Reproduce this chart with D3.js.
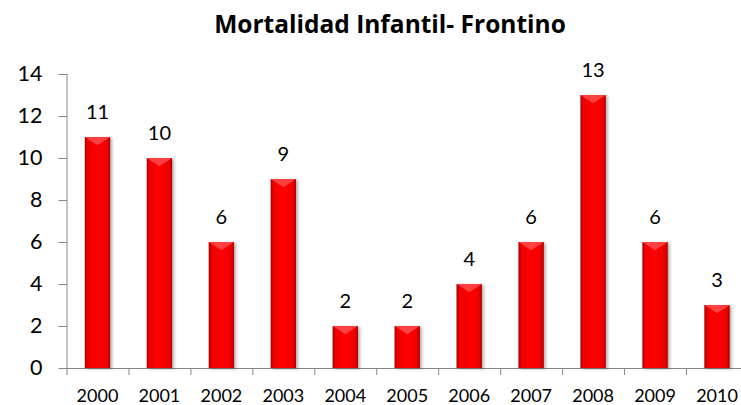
<!DOCTYPE html>
<html>
<head>
<meta charset="utf-8">
<script src="https://cdn.jsdelivr.net/npm/d3@7/dist/d3.min.js"></script>
<style>
  body { margin: 0; background: #fff; }
  svg { display: block; }
</style>
</head>
<body>
<div id="chart"></div>
<script>
// chart data
var years = ["2000", "2001", "2002", "2003", "2004", "2005", "2006", "2007", "2008", "2009", "2010"];
var deaths = [11, 10, 6, 9, 2, 2, 4, 6, 13, 6, 3];
var yTicks = [0, 2, 4, 6, 8, 10, 12, 14];
var title = "Mortalidad Infantil- Frontino";

var W = 741, H = 405;
var margin = {top: 74, right: -7, bottom: 37, left: 66.5};
var width = W - margin.left - margin.right;
var height = H - margin.top - margin.bottom;

var svg = d3.select("#chart").append("svg")
    .attr("width", W)
    .attr("height", H);

var defs = svg.append("defs");
var grad = defs.append("linearGradient")
    .attr("id", "barGrad")
    .attr("x1", "0%").attr("x2", "100%").attr("y1", "0%").attr("y2", "0%");
grad.append("stop").attr("offset", "0%").attr("stop-color", "#a80000");
grad.append("stop").attr("offset", "12%").attr("stop-color", "#ee0000");
grad.append("stop").attr("offset", "50%").attr("stop-color", "#ff0000");
grad.append("stop").attr("offset", "88%").attr("stop-color", "#ee0000");
grad.append("stop").attr("offset", "100%").attr("stop-color", "#a80000");

var shadow = defs.append("filter").attr("id", "shadow")
    .attr("x", "-30%").attr("y", "-10%").attr("width", "170%").attr("height", "130%");
shadow.append("feDropShadow")
    .attr("dx", 2).attr("dy", 1).attr("stdDeviation", 1.8)
    .attr("flood-color", "#000").attr("flood-opacity", 0.3);

// title
svg.append("text")
    .attr("x", 390)
    .attr("y", 33)
    .attr("text-anchor", "middle")
    .style("font-family", "'Open Sans', sans-serif")
    .style("font-weight", "bold")
    .style("font-size", "24.5px")
    .text(title);

var g = svg.append("g")
    .attr("transform", "translate(" + margin.left + "," + margin.top + ")");

var xScale = d3.scaleBand().domain(years).range([0, width]).paddingInner(0.59).paddingOuter(0.295);
var yScale = d3.scaleLinear().domain([0, 14]).range([height, 0]);

// axes
var yAxis = d3.axisLeft(yScale).tickValues(yTicks).tickSize(8).tickPadding(16);
var xAxis = d3.axisBottom(d3.scaleLinear().domain([0, years.length]).range([0, width]))
    .tickValues(d3.range(years.length + 1)).tickSize(7).tickFormat("");

var gy = g.append("g").call(yAxis);
gy.select(".domain").attr("stroke", "#868686").attr("d", "M0.5," + height + "V0");
gy.selectAll(".tick line").attr("stroke", "#868686").attr("x1", 0.5);
gy.selectAll(".tick text")
    .style("font-family", "Lato, sans-serif")
    .style("font-size", "21.5px")
    .attr("fill", "#000");

var gx = g.append("g").attr("transform", "translate(0," + height + ")").call(xAxis);
gx.select(".domain").attr("stroke", "#868686").attr("d", "M0," + 0.5 + "H" + width);
gx.selectAll(".tick line").attr("stroke", "#868686");

g.append("g").selectAll("text")
    .data(years)
  .enter().append("text")
    .attr("x", function(d) { return xScale(d) + xScale.bandwidth() / 2; })
    .attr("y", height + 34)
    .attr("text-anchor", "middle")
    .style("font-family", "Lato, sans-serif")
    .style("font-size", "18px")
    .text(function(d) { return d; });

// bars
var bars = g.append("g").selectAll("g.bar")
    .data(deaths)
  .enter().append("g")
    .attr("class", "bar")
    .attr("filter", "url(#shadow)");

bars.append("rect")
    .attr("x", function(d, i) { return xScale(years[i]); })
    .attr("y", function(d) { return yScale(d); })
    .attr("width", xScale.bandwidth())
    .attr("height", function(d) { return height - yScale(d); })
    .attr("fill", "url(#barGrad)");

// top bevel
bars.append("path")
    .attr("d", function(d, i) {
      var x0 = xScale(years[i]), w = xScale.bandwidth(), y0 = yScale(d);
      return "M" + x0 + "," + y0 + "H" + (x0 + w) + "L" + (x0 + w / 2) + "," + (y0 + w * 0.32) + "Z";
    })
    .attr("fill", "#ff4a4a")
    .attr("opacity", 0.85);

// value labels
g.append("g").selectAll("text")
    .data(deaths)
  .enter().append("text")
    .attr("x", function(d, i) { return xScale(years[i]) + xScale.bandwidth() / 2; })
    .attr("y", function(d) { return yScale(d) - 18; })
    .attr("text-anchor", "middle")
    .style("font-family", "Lato, sans-serif")
    .style("font-size", "20px")
    .text(function(d) { return d; });
</script>
</body>
</html>
